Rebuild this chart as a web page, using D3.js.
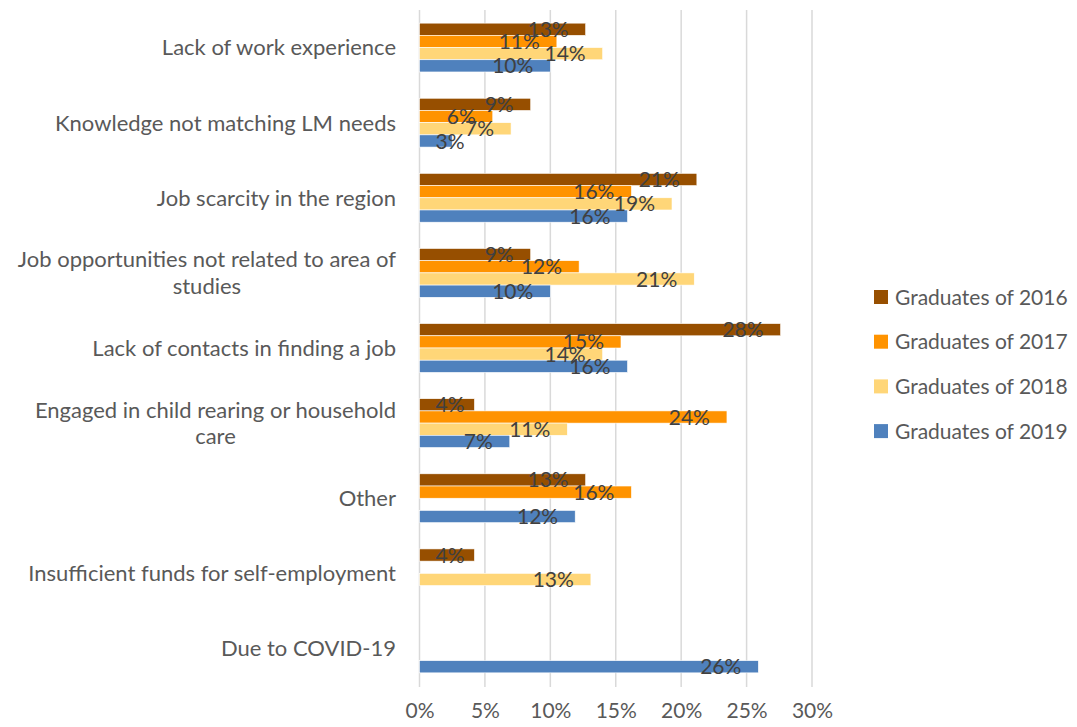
<!DOCTYPE html>
<head>
  <meta charset="UTF-8">
  <title>reasons</title>
  <style>
  body, html, svg{
    padding: 0;
    margin: 0;
  }
  body{
    background: #fff;
  }
  text{
    font-family: Lato, "Open Sans", sans-serif;
  }
  </style>
</head>
<body>
  <script src="https://cdn.jsdelivr.net/npm/d3@7/dist/d3.min.js"></script>
  <script type="text/javascript">
  var width = 1077;
  var height = 727;

  // categories, top to bottom
  var categories = [
    'Lack of work experience',
    'Knowledge not matching LM needs',
    'Job scarcity in the region',
    'Job opportunities not related to area of studies',
    'Lack of contacts in finding a job',
    'Engaged in child rearing or household care',
    'Other',
    'Insufficient funds for self-employment',
    'Due to COVID-19'
  ];
  var series = ['Graduates of 2016', 'Graduates of 2017', 'Graduates of 2018', 'Graduates of 2019'];
  var colors = ['#974f00', '#ff9300', '#ffd678', '#4f81bd'];

  // percent values, null = no bar
  var grad2016 = [12.7, 8.5, 21.2, 8.5, 27.6, 4.2, 12.7, 4.2, null];
  var grad2017 = [10.5, 5.6, 16.2, 12.2, 15.4, 23.5, 16.2, null, null];
  var grad2018 = [14.0, 7.0, 19.3, 21.0, 14.0, 11.3, null, 13.1, null];
  var grad2019 = [10.0, 2.5, 15.9, 10.0, 15.9, 6.9, 11.9, null, 25.9];
  var values = [grad2016, grad2017, grad2018, grad2019];

  var xTicks = [0, 5, 10, 15, 20, 25, 30];

  var svg = d3.select('body')
    .append('svg')
    .attr('width', width)
    .attr('height', height);

  //比例尺
  var x = d3.scaleLinear().domain([0, 30]).range([419.5, 812]);
  var y = d3.scaleBand()
    .domain(categories)
    .range([10, 686])
    .paddingInner(0.35)
    .paddingOuter(0.175);
  var ySub = d3.scaleBand()
    .domain(series)
    .range([0, y.bandwidth()]);

  //网格线
  svg.append('g')
    .selectAll('line')
    .data(xTicks)
    .enter()
    .append('line')
    .attr('x1', d => x(d))
    .attr('x2', d => x(d))
    .attr('y1', 10)
    .attr('y2', 687)
    .attr('stroke', '#d9d9d9')
    .attr('stroke-width', 1.5);

  //x轴
  var xAxis = d3.axisBottom(x)
    .tickValues(xTicks)
    .tickFormat(d => d + '%')
    .tickSize(0)
    .tickPadding(0);
  var gx = svg.append('g')
    .attr('transform', 'translate(0,703)')
    .call(xAxis);
  gx.select('.domain').remove();
  gx.selectAll('text')
    .attr('dy', '0.71em')
    .attr('font-size', 21)
    .attr('fill', '#595959')
    .style('font-family', 'Lato, sans-serif');

  //柱子
  var bars = [];
  series.forEach(function(s, i){
    values[i].forEach(function(v, j){
      if (v !== null) bars.push({s: s, i: i, cat: categories[j], v: v});
    });
  });

  svg.append('g')
    .selectAll('rect')
    .data(bars)
    .enter()
    .append('rect')
    .attr('x', x(0))
    .attr('y', d => y(d.cat) + ySub(d.s))
    .attr('width', d => x(d.v) - x(0))
    .attr('height', ySub.bandwidth())
    .attr('fill', d => colors[d.i])
    .attr('stroke', '#fff')
    .attr('stroke-width', 0.6);

  //数据标签
  svg.append('g')
    .selectAll('text')
    .data(bars)
    .enter()
    .append('text')
    .attr('y', d => y(d.cat) + ySub(d.s) + ySub.bandwidth() / 2)
    .attr('dy', '0.36em')
    .attr('font-size', 21)
    .attr('fill', '#404040')
    .text(d => Math.round(d.v) + '%')
    .each(function(d){
      var w = this.getComputedTextLength();
      var right = x(d.v) - 17;
      var left = Math.max(right - w, x(0) + 16);
      d3.select(this).attr('x', left);
    });

  //类别标签
  var labels = svg.append('g')
    .selectAll('text')
    .data(categories)
    .enter()
    .append('text')
    .attr('text-anchor', 'middle')
    .attr('font-size', 22)
    .attr('fill', '#595959');

  labels.each(function(d){
    var t = d3.select(this);
    var words = d.split(' ');
    var lines = [];
    var cur = '';
    words.forEach(function(w){
      var test = cur ? cur + ' ' + w : w;
      t.text(test);
      if (textLen(t) > 392 && cur){
        lines.push(cur);
        cur = w;
      } else {
        cur = test;
      }
    });
    lines.push(cur);
    t.text(null);
    var cy = y(d) + y.bandwidth() / 2;
    var lh = 26.7;
    var y0 = cy - (lines.length - 1) * lh / 2;
    // right align the block, centre the lines within it
    var spans = [];
    lines.forEach(function(l, k){
      spans.push(t.append('tspan').attr('y', y0 + k * lh).text(l));
    });
    var maxW = d3.max(spans, ts => ts.node().getComputedTextLength());
    spans.forEach(function(ts){
      ts.attr('x', 396 - maxW / 2).attr('dy', '0.36em');
    });
  });

  function textLen(t){
    return t.node().getComputedTextLength();
  }

  //图例
  var legend = svg.append('g')
    .selectAll('g')
    .data(series)
    .enter()
    .append('g')
    .attr('transform', (d, i) => 'translate(874,' + (297 + i * 44.7) + ')');
  legend.append('rect')
    .attr('x', 0)
    .attr('y', -7)
    .attr('width', 14)
    .attr('height', 14)
    .attr('fill', (d, i) => colors[i]);
  legend.append('text')
    .attr('x', 21)
    .attr('dy', '0.36em')
    .attr('font-size', 21)
    .attr('fill', '#595959')
    .text(d => d);
  </script>
</body>
</html>
